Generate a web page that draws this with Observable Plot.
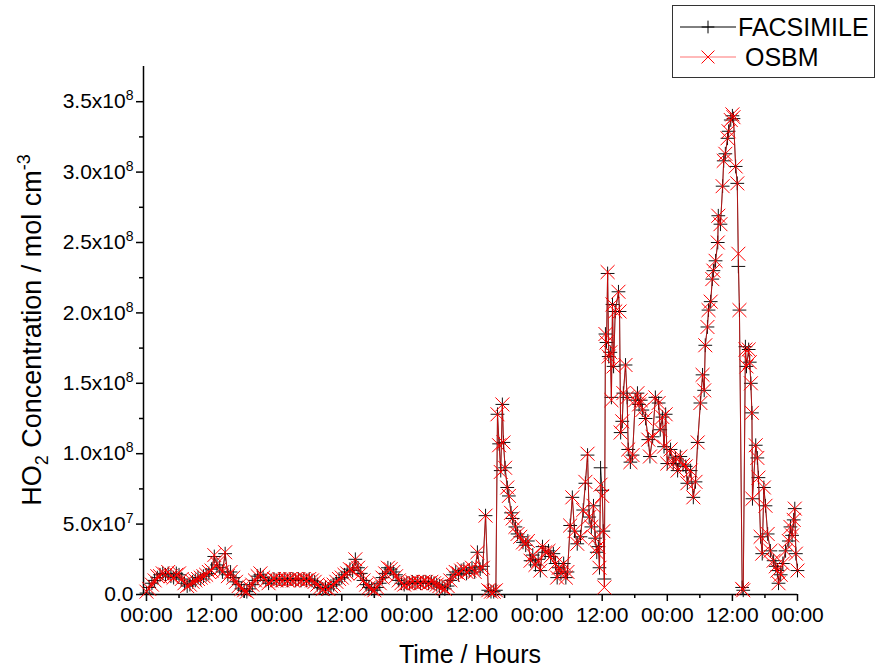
<!DOCTYPE html>
<html>
<head>
<meta charset="utf-8">
<script src="https://cdn.jsdelivr.net/npm/d3@7"></script>
<script src="https://cdn.jsdelivr.net/npm/@observablehq/plot@0.6"></script>
<style>
  body { margin: 0; background: #fff; }
  #chart { position: relative; width: 878px; height: 671px; }
</style>
</head>
<body>
<div id="chart"></div>
<script>
// ---------------- DATA ----------------
// Time in hours from the first 00:00; concentrations in units of 1e8 mol cm^-3.
const seriesNames = ["FACSIMILE", "OSBM"];

const hours = [
  0, 0.5, 1, 1.5, 2, 2.5, 3, 3.5, 4, 4.5,
  5, 5.5, 6, 6.5, 7, 7.5, 8, 8.5, 9, 9.5,
  10, 10.5, 11, 11.5, 12, 12.5, 13, 13.5, 14, 14.5,
  15, 15.5, 16, 16.5, 17, 17.5, 18, 18.5, 19, 19.5,
  20, 20.5, 21, 21.5, 22, 22.5, 23, 23.5, 24, 24.5,
  25, 25.5, 26, 26.5, 27, 27.5, 28, 28.5, 29, 29.5,
  30, 30.5, 31, 31.5, 32, 32.5, 33, 33.5, 34, 34.5,
  35, 35.5, 36, 36.5, 37, 37.5, 38, 38.5, 39, 39.5,
  40, 40.5, 41, 41.5, 42, 42.5, 43, 43.5, 44, 44.5,
  45, 45.5, 46, 46.5, 47, 47.5, 48, 48.5, 49, 49.5,
  50, 50.5, 51, 51.5, 52, 52.5, 53, 53.5, 54, 54.5,
  55, 55.5, 56, 56.5, 57, 57.5, 58, 58.5, 59, 59.5,
  60, 60.5, 61, 61.5, 62, 62.5,
  63, 63.5, 64, 64.4,
  64.7, 65.0, 65.3, 65.6, 65.8, 66.1, 66.5, 66.8, 67.2, 67.5,
  68.0, 68.4, 68.9, 69.4, 69.9, 70.3, 70.8, 71.2, 71.7, 72.2,
  72.6, 73.0, 73.5, 74.1, 74.5, 75.0, 75.4, 75.7, 76.0, 76.4,
  76.9, 77.3, 77.6, 78.1, 78.5, 78.9, 79.4, 80.0, 80.5, 80.9,
  81.3, 81.6, 82.0, 82.4, 82.7, 83.0, 83.3, 83.5, 83.7, 84.0,
  84.2, 84.4, 84.6, 84.8, 85.0, 85.2, 85.5, 85.7, 85.9, 86.1,
  86.4, 87.0, 87.2, 87.4, 87.7, 87.9, 88.3, 88.6, 88.8, 89.2,
  89.6, 90.1, 90.5, 90.8, 91.1, 91.4, 92.0, 92.5, 92.8, 93.3,
  93.8, 94.4, 94.7, 95.1, 95.4, 95.7, 96.0, 96.6, 97.1, 97.5,
  97.9, 98.4, 98.9, 99.4, 99.7, 100.3, 100.8, 101.2, 101.6, 102.1,
  102.5, 102.8, 103.0, 103.4, 103.6, 104.0, 104.3, 104.5, 104.9, 105.3,
  105.4, 105.8, 106.2, 106.4, 106.7, 107.1, 107.3, 107.7, 108.0, 108.2,
  108.6, 108.9, 109.1, 109.3, 109.8, 110.0, 110.4, 110.6, 111.0, 111.2,
  111.4, 111.6, 111.7, 112.3, 112.6, 112.8, 113.2, 113.5, 113.8, 114.1,
  114.5, 115.0, 115.6, 116.0, 116.3, 116.5, 116.9, 117.3, 117.8, 118.4,
  118.7, 119.0, 119.3, 119.5, 119.7, 120.0
];

const facsimile = [
  0.01, 0.05, 0.08, 0.10, 0.12, 0.14, 0.15, 0.14, 0.15, 0.13,
  0.12, 0.15, 0.14, 0.11, 0.08, 0.06, 0.07, 0.09, 0.10, 0.12,
  0.11, 0.13, 0.14, 0.15, 0.18, 0.27, 0.21, 0.19, 0.16, 0.29,
  0.14, 0.16, 0.12, 0.09, 0.07, 0.04, 0.03, 0.02, 0.04, 0.07,
  0.10, 0.13, 0.14, 0.12, 0.10, 0.08, 0.10, 0.11, 0.10, 0.11,
  0.10, 0.11, 0.10, 0.11, 0.11, 0.10, 0.11, 0.10, 0.11, 0.10,
  0.11, 0.10, 0.09, 0.07, 0.05, 0.04, 0.05, 0.04, 0.06, 0.07,
  0.09, 0.11, 0.12, 0.14, 0.16, 0.18, 0.17, 0.25, 0.19, 0.15,
  0.10, 0.07, 0.05, 0.04, 0.03, 0.05, 0.08, 0.12, 0.15, 0.19,
  0.18, 0.16, 0.14, 0.10, 0.08, 0.07, 0.08, 0.08, 0.09, 0.08,
  0.09, 0.08, 0.09, 0.09, 0.08, 0.09, 0.08, 0.07, 0.06, 0.05,
  0.04, 0.06, 0.10, 0.14, 0.16, 0.14, 0.17, 0.18, 0.15, 0.17,
  0.19, 0.16, 0.30, 0.18, 0.20, 0.56,
  0.03, 0.02, 0.02, 0.03,
  1.28, 1.07, 0.88, 1.35, 1.08, 0.90, 0.76, 0.70, 0.58, 0.54,
  0.48, 0.43, 0.41, 0.37, 0.35, 0.38, 0.24, 0.28, 0.21, 0.25,
  0.17, 0.34, 0.30, 0.31, 0.27, 0.29, 0.22, 0.12, 0.19, 0.15,
  0.22, 0.12, 0.16, 0.49, 0.69, 0.45, 0.36, 0.41, 0.60, 0.79,
  0.99, 0.55, 0.48, 0.63, 0.40, 0.30, 0.34, 0.19, 0.90, 0.74,
  0.45, 0.11, 1.85, 1.79, 2.28, 1.69, 1.72, 1.40, 2.06, 1.62,
  2.01, 2.15, 2.01, 1.15, 1.23, 1.43, 1.63, 1.40, 1.03, 0.94,
  0.99, 1.38, 1.43, 1.35, 1.38, 1.31, 1.25, 1.10, 0.98, 1.12,
  1.40, 1.36, 1.17, 1.26, 1.05, 1.28, 0.93, 1.03, 0.93, 0.97,
  0.88, 0.98, 0.92, 0.91, 0.79, 0.88, 0.69, 0.80, 1.08, 1.36,
  1.56, 1.45, 1.77, 1.90, 2.02, 2.08, 2.24, 2.30, 2.37, 2.50,
  2.69, 2.63, 2.90, 3.08, 3.13, 3.24, 3.29, 3.37, 3.40, 3.38,
  3.04, 2.92, 2.33, 2.02, 0.05, 0.03, 1.76, 1.62, 1.74, 1.65,
  1.50, 1.29, 0.68, 1.06, 0.97, 0.83, 0.41, 0.29, 0.76, 0.63,
  0.43, 0.31, 0.24, 0.20, 0.17, 0.08, 0.14, 0.22, 0.31, 0.38,
  0.48, 0.42, 0.53, 0.61, 0.29, 0.17
];

const osbm = [
  0.02, 0.04, 0.07, 0.10, 0.13, 0.13, 0.15, 0.14, 0.16, 0.13,
  0.12, 0.14, 0.15, 0.11, 0.08, 0.06, 0.07, 0.09, 0.10, 0.11,
  0.12, 0.13, 0.14, 0.16, 0.17, 0.28, 0.22, 0.18, 0.16, 0.30,
  0.13, 0.16, 0.12, 0.09, 0.06, 0.04, 0.03, 0.02, 0.05, 0.07,
  0.10, 0.13, 0.15, 0.12, 0.10, 0.08, 0.10, 0.11, 0.10, 0.11,
  0.10, 0.11, 0.10, 0.11, 0.10, 0.11, 0.11, 0.10, 0.11, 0.10,
  0.11, 0.10, 0.09, 0.07, 0.05, 0.04, 0.05, 0.04, 0.06, 0.07,
  0.09, 0.11, 0.12, 0.14, 0.15, 0.18, 0.17, 0.25, 0.19, 0.15,
  0.10, 0.07, 0.05, 0.04, 0.03, 0.05, 0.08, 0.12, 0.15, 0.19,
  0.18, 0.16, 0.13, 0.10, 0.08, 0.07, 0.08, 0.08, 0.09, 0.08,
  0.09, 0.08, 0.09, 0.09, 0.08, 0.09, 0.08, 0.07, 0.06, 0.05,
  0.04, 0.06, 0.10, 0.14, 0.16, 0.15, 0.17, 0.18, 0.16, 0.17,
  0.19, 0.16, 0.30, 0.18, 0.19, 0.56,
  0.03, 0.02, 0.02, 0.03,
  1.28, 1.06, 0.87, 1.35, 1.08, 0.90, 0.76, 0.70, 0.58, 0.54,
  0.48, 0.43, 0.41, 0.37, 0.36, 0.38, 0.24, 0.28, 0.21, 0.24,
  0.17, 0.34, 0.30, 0.31, 0.27, 0.29, 0.22, 0.12, 0.19, 0.15,
  0.22, 0.12, 0.16, 0.49, 0.69, 0.45, 0.36, 0.41, 0.60, 0.80,
  1.00, 0.55, 0.48, 0.63, 0.40, 0.30, 0.34, 0.19, 0.78, 0.70,
  0.45, 0.05, 1.85, 1.79, 2.29, 1.69, 1.72, 1.38, 2.06, 1.62,
  2.01, 2.15, 2.01, 1.15, 1.23, 1.43, 1.63, 1.40, 1.03, 0.94,
  0.99, 1.38, 1.43, 1.35, 1.38, 1.31, 1.25, 1.10, 0.98, 1.12,
  1.40, 1.36, 1.17, 1.26, 1.05, 1.28, 0.93, 1.03, 0.93, 0.97,
  0.88, 0.98, 0.92, 0.91, 0.79, 0.88, 0.69, 0.80, 1.08, 1.36,
  1.56, 1.45, 1.77, 1.90, 2.02, 2.08, 2.24, 2.30, 2.37, 2.50,
  2.69, 2.63, 2.90, 3.08, 3.13, 3.24, 3.29, 3.37, 3.41, 3.39,
  3.04, 2.92, 2.42, 2.02, 0.04, 0.03, 1.74, 1.62, 1.74, 1.65,
  1.50, 1.29, 0.68, 1.06, 0.97, 0.83, 0.41, 0.29, 0.76, 0.63,
  0.43, 0.31, 0.24, 0.20, 0.17, 0.08, 0.14, 0.22, 0.31, 0.38,
  0.48, 0.42, 0.53, 0.61, 0.29, 0.17
];

// Axis ticks
const xTickHours = [0, 12, 24, 36, 48, 60, 72, 84, 96, 108, 120];
const xTickLabels = ["00:00", "12:00", "00:00", "12:00", "00:00", "12:00", "00:00", "12:00", "00:00", "12:00", "00:00"];
const xMinorHours = [6, 18, 30, 42, 54, 66, 78, 90, 102, 114];
const yTickValues = [0, 0.5, 1.0, 1.5, 2.0, 2.5, 3.0, 3.5];
const yTickLabels = ["0.0", "5.0x10^7", "1.0x10^8", "1.5x10^8", "2.0x10^8", "2.5x10^8", "3.0x10^8", "3.5x10^8"];
const yMinorValues = [0.25, 0.75, 1.25, 1.75, 2.25, 2.75, 3.25];

// ---------------- BUILD ----------------
if (hours.length !== facsimile.length || hours.length !== osbm.length) {
  throw new Error("length mismatch " + hours.length + " " + facsimile.length + " " + osbm.length);
}
const facRows = hours.map((h, i) => ({h, v: facsimile[i], s: seriesNames[0]}));
const osbmRows = hours.map((h, i) => ({h, v: osbm[i], s: seriesNames[1]}));

const FONT = "'Liberation Sans', Arial, Helvetica, sans-serif";
const X0 = -0.55, X1 = 120, Y0 = 0, Y1 = 3.75;
const RED = "#ff0000";

const svg = Plot.plot({
  width: 878,
  height: 671,
  marginLeft: 143,
  marginRight: 81,
  marginTop: 66,
  marginBottom: 77,
  style: {fontFamily: FONT, fontSize: "21px", color: "#000", background: "#fff", overflow: "visible"},
  x: {domain: [X0, X1]},
  y: {domain: [Y0, Y1]},
  marks: [
    Plot.axisX(xMinorHours, {tickSize: 4, strokeWidth: 1.5, tickFormat: () => "", label: null}),
    Plot.axisX(xTickHours, {tickSize: 7, tickPadding: 6, strokeWidth: 1.5,
      tickFormat: d => xTickLabels[xTickHours.indexOf(d)], label: null}),
    Plot.axisY(yMinorValues, {tickSize: 4, strokeWidth: 1.5, tickFormat: () => "", label: null}),
    Plot.axisY(yTickValues, {tickSize: 7, tickPadding: 3, strokeWidth: 1.5,
      tickFormat: d => yTickLabels[yTickValues.indexOf(d)], label: null}),
    Plot.ruleY([Y0], {x1: X0, x2: X1, stroke: "#000", strokeWidth: 1.5}),
    Plot.ruleX([X0], {y1: Y0, y2: Y1, stroke: "#000", strokeWidth: 1.5}),
    Plot.line(facRows, {x: "h", y: "v", stroke: "#000", strokeWidth: 0.8}),
    Plot.dot(facRows, {x: "h", y: "v", symbol: "plus", r: 4.5, fill: "none", stroke: "#111", strokeWidth: 1}),
    Plot.line(osbmRows, {x: "h", y: "v", stroke: RED, strokeWidth: 0.9, strokeOpacity: 0.7}),
    Plot.dot(osbmRows, {x: "h", y: "v", symbol: "times", r: 6.4, fill: "none", stroke: RED, strokeWidth: 1})
  ]
});

const root = d3.select(svg);

// Superscripts in the y tick labels
root.selectAll('[aria-label="y-axis tick label"] text').each(function () {
  const t = this.textContent;
  if (t.includes("^")) {
    const [base, sup] = t.split("^");
    const sel = d3.select(this);
    sel.text(base);
    sel.append("tspan").attr("dy", "-8").style("font-size", "14px").text(sup);
  }
});

// Axis titles
const yTitle = root.append("text")
  .attr("transform", "translate(41,330) rotate(-90)")
  .attr("text-anchor", "middle")
  .style("font-family", FONT).style("font-size", "27px").attr("fill", "#000");
yTitle.append("tspan").text("HO");
yTitle.append("tspan").attr("dy", "7").style("font-size", "18px").text("2");
yTitle.append("tspan").attr("dy", "-7").text(" Concentration / mol cm");
yTitle.append("tspan").attr("dy", "-11").style("font-size", "18px").text("-3");

root.append("text")
  .attr("x", 470).attr("y", 663)
  .attr("text-anchor", "middle")
  .style("font-family", FONT).style("font-size", "25px").attr("fill", "#000")
  .text("Time / Hours");

// Legend
const lg = root.append("g").attr("class", "legend").attr("text-anchor", "start");
lg.append("rect").attr("x", 672.5).attr("y", 5.5).attr("width", 202).attr("height", 72)
  .attr("fill", "#fff").attr("stroke", "#333").attr("stroke-width", 1);
const rows = [
  {name: seriesNames[0], y: 27, color: "#000", lineOpacity: 1, sym: d3.symbolPlus, size: 55, tx: 738},
  {name: seriesNames[1], y: 57, color: RED, lineOpacity: 0.55, sym: d3.symbolTimes, size: 110, tx: 745}
];
for (const r of rows) {
  lg.append("line").attr("x1", 680).attr("x2", 736).attr("y1", r.y).attr("y2", r.y)
    .attr("stroke", r.color).attr("stroke-opacity", r.lineOpacity).attr("stroke-width", 1);
  lg.append("path").attr("d", d3.symbol(r.sym, r.size)())
    .attr("transform", `translate(708,${r.y})`)
    .attr("fill", "none").attr("stroke", r.color).attr("stroke-width", 1);
  lg.append("text").attr("x", r.tx).attr("y", r.y + 9).attr("text-anchor", "start")
    .style("font-family", FONT).style("font-size", "25px").attr("fill", "#000")
    .text(r.name);
}

document.getElementById("chart").appendChild(svg);
</script>
</body>
</html>
